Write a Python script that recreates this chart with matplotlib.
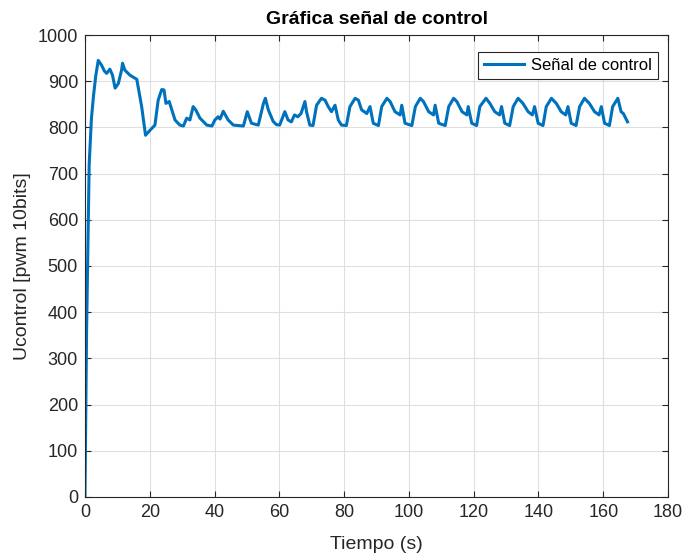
import matplotlib.pyplot as plt

# time (s) and control signal (pwm 10 bits)
tiempo = [0, 0.5, 1.3, 2.0, 2.6, 3.3, 4.1, 5.1, 6.0, 6.7,
          7.7, 8.5, 9.3, 10.3, 11.3, 11.6, 12.3, 13.9, 16.0, 17.5,
          18.7, 20.1, 21.6, 22.6, 23.7, 24.4, 25.0, 26.0, 27.8, 29.3,
          30.4, 31.4, 32.4, 33.4, 34.2, 35.5, 37.6, 39.2, 40.1, 41.1,
          41.7, 42.7, 44.2, 45.8, 48.9, 50.1, 51.4, 53.5, 55.1, 55.7,
          56.6, 58.1, 59.1, 60.1, 61.7, 62.7, 63.7, 64.7, 65.7, 66.7,
          67.9, 68.4, 69.4, 70.4, 71.5, 73.0, 74.1, 75.1, 76.1, 77.2,
          78.2, 79.2, 80.7, 81.8, 83.4, 84.4, 85.4, 87.0, 88.0, 89.0,
          90.6, 91.6, 93.2, 94.2, 95.7, 97.3, 97.8, 98.8, 100.9, 102.0,
          103.5, 104.5, 106.1, 107.6, 108.1, 109.2, 111.2, 112.3, 113.8, 114.8,
          116.4, 117.9, 118.3, 119.4, 120.9, 121.9, 123.8, 125.0, 126.5, 128.0,
          128.6, 129.6, 131.1, 132.2, 133.7, 135.2, 136.8, 138.1, 138.8, 139.9,
          141.4, 142.4, 144.0, 145.5, 147.0, 148.4, 149.1, 150.1, 151.6, 152.7,
          154.2, 155.7, 157.3, 158.7, 159.4, 160.4, 161.9, 162.9, 164.5, 165.5,
          166.2, 167.5]
ucontrol = [0, 360, 720, 820, 866, 910, 945, 935, 922, 917,
            926, 913, 885, 895, 924, 939, 924, 913, 904, 845,
            783, 794, 805, 859, 882, 881, 852, 856, 816, 805,
            803, 820, 816, 845, 838, 820, 805, 803, 816, 823,
            818, 835, 816, 805, 803, 834, 809, 805, 852, 863,
            838, 813, 806, 805, 834, 816, 812, 827, 823, 830,
            856, 834, 805, 804, 848, 863, 859, 845, 834, 848,
            816, 805, 804, 845, 863, 859, 838, 830, 845, 809,
            804, 845, 863, 856, 834, 827, 848, 809, 804, 845,
            863, 856, 834, 827, 848, 809, 804, 845, 863, 856,
            834, 827, 845, 809, 804, 845, 863, 852, 834, 827,
            845, 809, 804, 845, 863, 852, 834, 827, 845, 809,
            804, 845, 863, 852, 834, 827, 845, 809, 804, 845,
            863, 852, 834, 827, 845, 809, 804, 845, 863, 834,
            830, 812]

xticks = list(range(0, 181, 20))
yticks = list(range(0, 1001, 100))

plt.rcParams['font.family'] = ['Liberation Sans', 'DejaVu Sans']

fig = plt.figure(figsize=(6.88, 5.53), dpi=100)
ax = fig.add_axes([0.1235, 0.1013, 0.8475, 0.8354])

ax.plot(tiempo, ucontrol, color='#0072BD', linewidth=2.2, label='Señal de control')

ax.set_xlim(0, 180)
ax.set_ylim(0, 1000)
ax.set_xticks(xticks)
ax.set_yticks(yticks)
ax.grid(True, color='#dfdfdf', linewidth=0.8)
ax.set_axisbelow(True)
ax.tick_params(direction='in', length=4, labelsize=13, colors='#262626', pad=5,
               top=True, right=True, labeltop=False, labelright=False)
for s in ax.spines.values():
    s.set_color('#262626')
    s.set_linewidth(0.8)

ax.set_xlabel('Tiempo (s)', fontsize=14, color='#262626', labelpad=11)
ax.set_ylabel('Ucontrol [pwm 10bits]', fontsize=14, color='#262626', labelpad=5)
ax.set_title('Gráfica señal de control', fontsize=14, fontweight='bold', pad=8)

leg = ax.legend(loc='upper right', bbox_to_anchor=(0.983, 0.963), fontsize=12,
                fancybox=False, framealpha=1, edgecolor='#262626',
                handlelength=2.4, handletextpad=0.45, borderpad=0.35,
                borderaxespad=0)
leg.get_frame().set_linewidth(0.8)

fig.savefig('out.png', dpi=100)
